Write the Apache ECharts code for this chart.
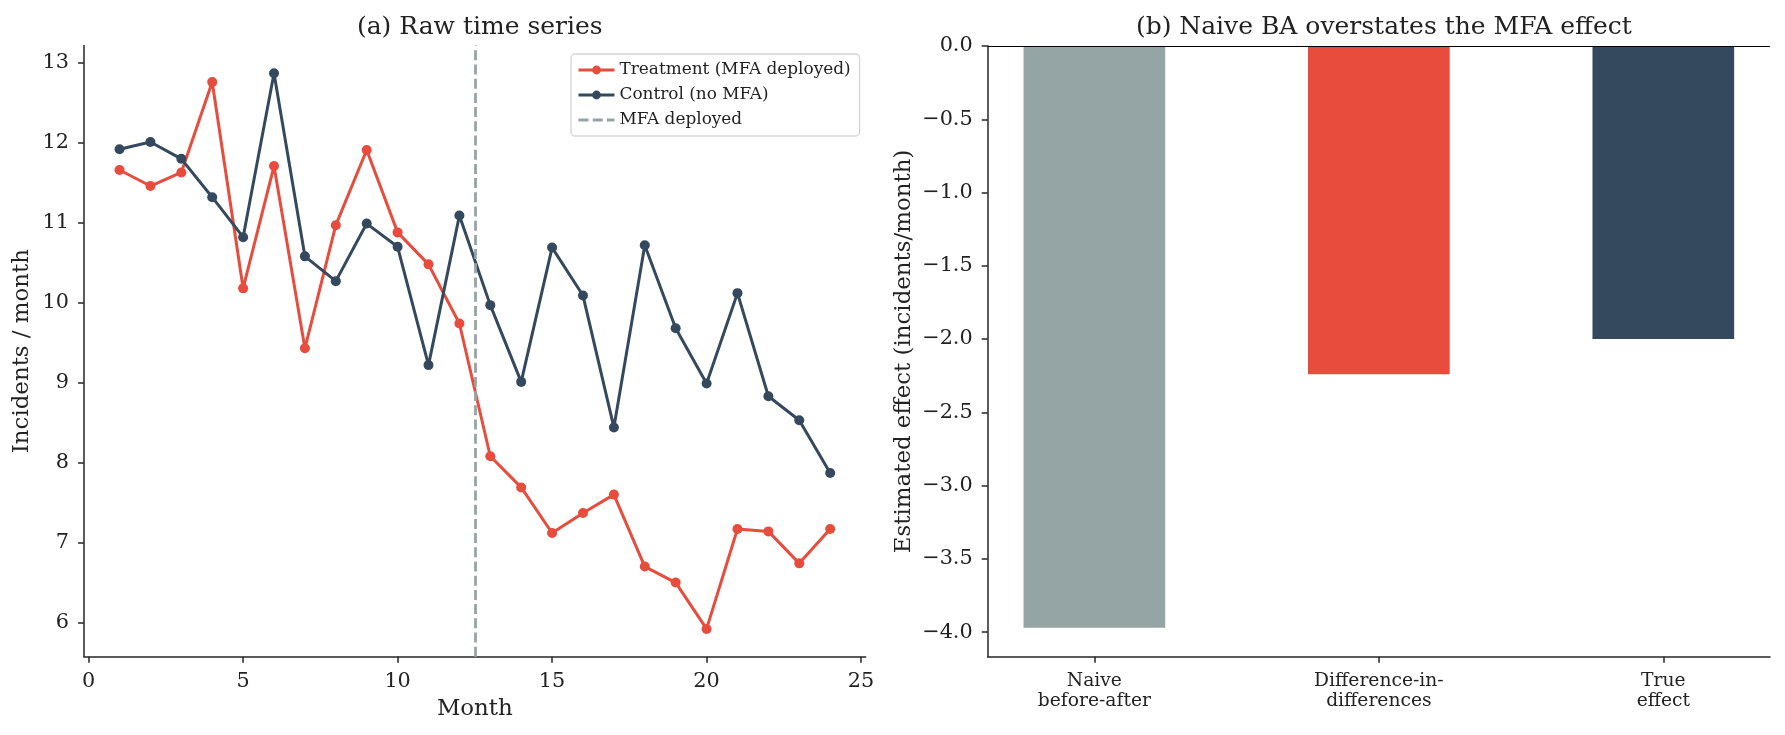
<!DOCTYPE html>
<html>
<head>
<meta charset="utf-8">
<script src="https://cdn.jsdelivr.net/npm/echarts@6/dist/echarts.min.js"></script>
<style>html,body{margin:0;padding:0;background:#fff}#c{width:1785px;height:735px}</style>
</head>
<body>
<div id="c"></div>
<script>
const months = [1,2,3,4,5,6,7,8,9,10,11,12,13,14,15,16,17,18,19,20,21,22,23,24];
const treatment = [11.66,11.46,11.63,12.76,10.18,11.71,9.43,10.97,11.91,10.88,10.48,9.74,8.08,7.69,7.12,7.37,7.60,6.70,6.50,5.92,7.17,7.14,6.74,7.17];
const control = [11.92,12.01,11.80,11.32,10.82,12.87,10.58,10.27,10.99,10.70,9.22,11.09,9.97,9.01,10.69,10.09,8.44,10.72,9.68,8.99,10.12,8.83,8.53,7.87];
const deployMonth = 12.5;
const leftXTicks = [0,5,10,15,20,25];
const leftYTicks = [6,7,8,9,10,11,12,13];
const methods = ['Naive\nbefore-after','Difference-in-\ndifferences','True\neffect'];
const effects = [-3.97,-2.24,-2.00];
const rightYTicks = [0,-0.5,-1.0,-1.5,-2.0,-2.5,-3.0,-3.5,-4.0];

const RED = '#e74c3c', DARK = '#34495e', GRAY = '#95a5a6', AX = '#262626';
const FONT = 'DejaVu Serif';
const barColors = [GRAY, RED, DARK];

const chart = echarts.init(document.getElementById('c'), null, {renderer:'canvas'});
const axisCommon = {
  axisLine:{show:true, onZero:false, lineStyle:{color:AX, width:1.5}},
  axisTick:{show:true, length:6, lineStyle:{color:AX, width:1.5}},
  splitLine:{show:false},
  axisLabel:{color:'#222', fontFamily:FONT, fontSize:20.8}
};
const fmtMinus = v => (v === 0 ? '0.0' : v.toFixed(1).replace('-', '\u2212'));

chart.setOption({
  animation:false,
  textStyle:{fontFamily:FONT},
  title:[
    {text:'(a) Raw time series', left:474.8, top:10, textAlign:'center',
     textStyle:{fontFamily:FONT, fontWeight:'normal', fontSize:25, color:'#222'}},
    {text:'(b) Naive BA overstates the MFA effect', left:1378.8, top:10, textAlign:'center',
     textStyle:{fontFamily:FONT, fontWeight:'normal', fontSize:25, color:'#222'}}
  ],
  legend:{
    left:571, top:54, orient:'vertical',
    data:[
      {name:'Treatment (MFA deployed)'},
      {name:'Control (no MFA)'},
      {name:'MFA deployed', itemStyle:{opacity:0}}
    ],
    itemWidth:36, itemHeight:11, itemGap:7,
    padding:[7,9,7,6],
    lineStyle:{width:3},
    backgroundColor:'#fff', borderColor:'#d5d5d5', borderWidth:1.3, borderRadius:4,
    textStyle:{fontFamily:FONT, fontSize:16.9, color:'#222', lineHeight:18}
  },
  grid:[
    {left:84, right:919.3, top:45.5, bottom:78.3},
    {left:987.7, right:15, top:46, bottom:78.2}
  ],
  xAxis:[
    Object.assign({}, axisCommon, {
      type:'value', gridIndex:0, min:-0.15, max:25.15,
      axisTick:Object.assign({}, axisCommon.axisTick, {customValues:leftXTicks}),
      axisLabel:Object.assign({}, axisCommon.axisLabel, {customValues:leftXTicks, margin:14}),
      name:'Month', nameLocation:'middle', nameGap:41,
      nameTextStyle:{fontFamily:FONT, fontSize:22.9, color:'#222'}
    }),
    Object.assign({}, axisCommon, {
      type:'value', gridIndex:1, min:-0.375, max:2.375,
      axisTick:Object.assign({}, axisCommon.axisTick, {customValues:[0,1,2]}),
      axisLabel:Object.assign({}, axisCommon.axisLabel, {customValues:[0,1,2], margin:14, fontSize:18.7, lineHeight:20,
        formatter:v => methods[Math.round(v)]})
    })
  ],
  yAxis:[
    Object.assign({}, axisCommon, {
      type:'value', gridIndex:0, min:5.5725, max:13.2175,
      axisTick:Object.assign({}, axisCommon.axisTick, {customValues:leftYTicks}),
      axisLabel:Object.assign({}, axisCommon.axisLabel, {customValues:leftYTicks, margin:15}),
      name:'Incidents / month', nameLocation:'middle', nameGap:50,
      nameTextStyle:{fontFamily:FONT, fontSize:22.9, color:'#222'}
    }),
    Object.assign({}, axisCommon, {
      type:'value', gridIndex:1, min:-4.1685, max:0,
      axisTick:Object.assign({}, axisCommon.axisTick, {customValues:rightYTicks}),
      axisLabel:Object.assign({}, axisCommon.axisLabel, {customValues:rightYTicks, margin:15, formatter:fmtMinus}),
      name:'Estimated effect (incidents/month)', nameLocation:'middle', nameGap:72,
      nameTextStyle:{fontFamily:FONT, fontSize:22.9, color:'#222'}
    })
  ],
  series:[
    {name:'Treatment (MFA deployed)', type:'line', xAxisIndex:0, yAxisIndex:0,
     data:months.map((m,i)=>[m, treatment[i]]),
     symbol:'circle', symbolSize:10, itemStyle:{color:RED}, lineStyle:{color:RED, width:3}, z:3},
    {name:'Control (no MFA)', type:'line', xAxisIndex:0, yAxisIndex:0,
     data:months.map((m,i)=>[m, control[i]]),
     symbol:'circle', symbolSize:10, itemStyle:{color:DARK}, lineStyle:{color:DARK, width:3}, z:3},
    {name:'MFA deployed', type:'line', xAxisIndex:0, yAxisIndex:0, data:[],
     symbol:'none', itemStyle:{color:GRAY}, lineStyle:{color:GRAY, width:3, type:[10,4.2]},
     markLine:{silent:true, symbol:'none', label:{show:false},
       lineStyle:{color:GRAY, width:2.8, type:[10,4.2]},
       data:[{xAxis:deployMonth}]}, z:5},
    {name:'effects', type:'bar', xAxisIndex:1, yAxisIndex:1, barWidth:141.7,
     data:effects.map((v,i)=>({value:[i, v], itemStyle:{color:barColors[i]}})),
     markLine:{silent:true, symbol:'none', label:{show:false},
       lineStyle:{color:'#000', width:1, type:'solid'}, data:[{yAxis:0}]}}
  ]
});
</script>
</body>
</html>
